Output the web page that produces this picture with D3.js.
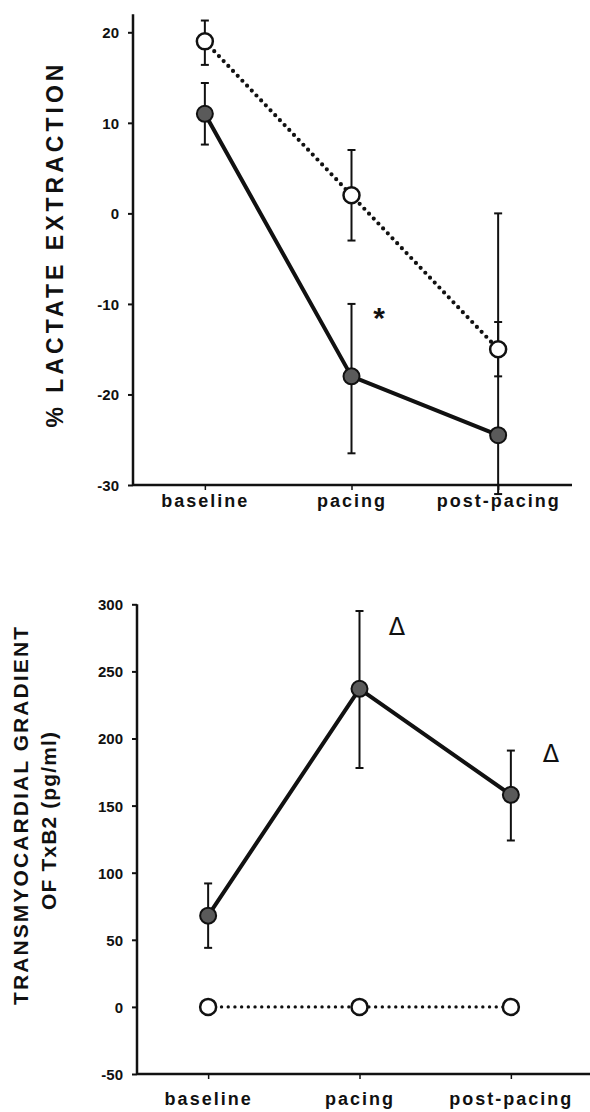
<!DOCTYPE html>
<html>
<head>
<meta charset="utf-8">
<script src="https://cdn.jsdelivr.net/npm/d3@7"></script>
<style>
  body { margin: 0; background: #fff; }
  svg { display: block; }
  text { font-family: "Liberation Sans", Arial, Helvetica, sans-serif; fill: #111; }
</style>
</head>
<body>
<div id="chart"></div>
<script>
// categories and values
const categories = ["baseline", "pacing", "post-pacing"];

// top panel: % lactate extraction
const lactateFilled = [11, -18, -24.5];
const lactateFilledLow = [7.6, -26.5, -31];
const lactateFilledHigh = [14.4, -10, 0];
const lactateOpen = [19, 2, -15];
const lactateOpenLow = [16.4, -3, -18];
const lactateOpenHigh = [21.3, 7, -12];
const lactateTicks = [20, 10, 0, -10, -20, -30];

// bottom panel: transmyocardial gradient of TxB2
const txFilled = [68, 237, 158];
const txFilledLow = [44, 178, 124];
const txFilledHigh = [92, 295, 191];
const txOpen = [0, 0, 0];
const txTicks = [300, 250, 200, 150, 100, 50, 0, -50];

const W = 590, H = 1112;
const svg = d3.select("#chart").append("svg")
  .attr("width", W)
  .attr("height", H);

function panel(cfg) {
  const g = svg.append("g");
  const x = d3.scalePoint()
    .domain(categories)
    .range(cfg.xRange)
    .padding(cfg.pad);
  const y = d3.scaleLinear()
    .domain(cfg.yDomain)
    .range(cfg.yRange);

  // y axis
  const yAxis = g.append("g")
    .attr("transform", `translate(${cfg.axisLeft},0)`)
    .call(d3.axisLeft(y).tickValues(cfg.ticks).tickFormat(d => String(d))
      .tickSize(5).tickPadding(9).tickSizeOuter(0));
  yAxis.select(".domain").remove();
  yAxis.selectAll(".tick line").attr("stroke", "#111").attr("stroke-width", 2);
  yAxis.selectAll("text")
    .style("font-size", "15px")
    .style("font-weight", "bold")
    .attr("dy", "0.36em");
  g.append("line")
    .attr("x1", cfg.axisLeft).attr("x2", cfg.axisLeft)
    .attr("y1", y(cfg.yTop)).attr("y2", y(cfg.yDomain[0]) + 1)
    .attr("stroke", "#111").attr("stroke-width", 2.5);

  // x axis
  const xAxis = g.append("g")
    .attr("transform", `translate(0,${y(cfg.yDomain[0])})`)
    .call(d3.axisBottom(x).tickSize(5).tickPadding(7).tickSizeOuter(0));
  xAxis.select(".domain").remove();
  xAxis.selectAll(".tick line").attr("stroke", "#111").attr("stroke-width", 1.5);
  xAxis.selectAll("text")
    .style("font-size", "18px")
    .style("font-weight", "bold")
    .style("letter-spacing", "2px")
    .attr("y", cfg.labelY - y(cfg.yDomain[0]))
    .attr("dy", 0);
  g.append("line")
    .attr("x1", cfg.axisLeft).attr("x2", cfg.axisRight)
    .attr("y1", y(cfg.yDomain[0])).attr("y2", y(cfg.yDomain[0]))
    .attr("stroke", "#111").attr("stroke-width", 2.5);

  // error bars
  const bars = [];
  cfg.series.forEach(s => {
    if (!s.low) return;
    categories.forEach((c, i) => bars.push({ c: c, lo: s.low[i], hi: s.high[i] }));
  });
  const eb = g.append("g").attr("stroke", "#111").attr("stroke-width", 2);
  eb.selectAll(".ev").data(bars).enter().append("line")
    .attr("x1", d => x(d.c)).attr("x2", d => x(d.c))
    .attr("y1", d => y(d.lo)).attr("y2", d => y(d.hi));
  eb.selectAll(".cap-hi").data(bars).enter().append("line")
    .attr("x1", d => x(d.c) - 4).attr("x2", d => x(d.c) + 4)
    .attr("y1", d => y(d.hi)).attr("y2", d => y(d.hi));
  eb.selectAll(".cap-lo").data(bars).enter().append("line")
    .attr("x1", d => x(d.c) - 4).attr("x2", d => x(d.c) + 4)
    .attr("y1", d => y(d.lo)).attr("y2", d => y(d.lo));

  // lines and markers
  cfg.series.forEach(s => {
    const pts = categories.map((c, i) => [x(c), y(s.values[i])]);
    const path = g.append("path")
      .attr("d", d3.line()(pts))
      .attr("fill", "none")
      .attr("stroke", "#111");
    if (s.open) {
      path.attr("stroke-width", s.dot)
        .attr("stroke-linecap", "round")
        .attr("stroke-dasharray", `0 ${s.gap}`);
    } else {
      path.attr("stroke-width", 4).attr("stroke-linejoin", "round");
    }
    g.selectAll(null).data(pts).enter().append("circle")
      .attr("cx", d => d[0]).attr("cy", d => d[1])
      .attr("r", 8)
      .attr("fill", s.open ? "#fff" : "#5a5a5a")
      .attr("stroke", "#111")
      .attr("stroke-width", s.open ? 2.5 : 2);
  });

  return { g, x, y };
}

// top panel
const lactatePanel = panel({
  xRange: [133, 570], pad: 0.49,
  yDomain: [-30, 20], yRange: [485, 32.3], yTop: 22,
  axisLeft: 133, axisRight: 572,
  ticks: lactateTicks, labelY: 507,
  series: [
    { values: lactateOpen, low: lactateOpenLow, high: lactateOpenHigh, open: true, dot: 4.2, gap: 6.8 },
    { values: lactateFilled, low: lactateFilledLow, high: lactateFilledHigh, open: false }
  ]
});
lactatePanel.g.append("text")
  .attr("x", 379).attr("y", 328)
  .attr("text-anchor", "middle")
  .style("font-size", "30px").style("font-weight", "bold")
  .text("*");
lactatePanel.g.append("text")
  .attr("transform", "translate(63,246) rotate(-90)")
  .attr("text-anchor", "middle")
  .attr("textLength", 363).attr("lengthAdjust", "spacing")
  .style("font-size", "23px").style("font-weight", "bold")
  .text("% LACTATE EXTRACTION");

// bottom panel
const txPanel = panel({
  xRange: [137, 582], pad: 0.47,
  yDomain: [-50, 300], yRange: [1074, 604.3], yTop: 300,
  axisLeft: 137, axisRight: 590,
  ticks: txTicks, labelY: 1105,
  series: [
    { values: txOpen, open: true, dot: 3.4, gap: 6.7 },
    { values: txFilled, low: txFilledLow, high: txFilledHigh, open: false }
  ]
});
[[397, 635], [551, 762]].forEach(p => {
  txPanel.g.append("text")
    .attr("x", p[0]).attr("y", p[1])
    .attr("text-anchor", "middle")
    .style("font-family", "'DejaVu Sans', sans-serif")
    .style("font-size", "24px")
    .text("Δ");
});
txPanel.g.append("text")
  .attr("transform", "translate(28,816) rotate(-90)")
  .attr("text-anchor", "middle")
  .attr("textLength", 378).attr("lengthAdjust", "spacing")
  .style("font-size", "21px").style("font-weight", "bold")
  .text("TRANSMYOCARDIAL  GRADIENT");
txPanel.g.append("text")
  .attr("transform", "translate(56,821) rotate(-90)")
  .attr("text-anchor", "middle")
  .attr("textLength", 178).attr("lengthAdjust", "spacing")
  .style("font-size", "21px").style("font-weight", "bold")
  .text("OF TxB2 (pg/ml)");
</script>
</body>
</html>
